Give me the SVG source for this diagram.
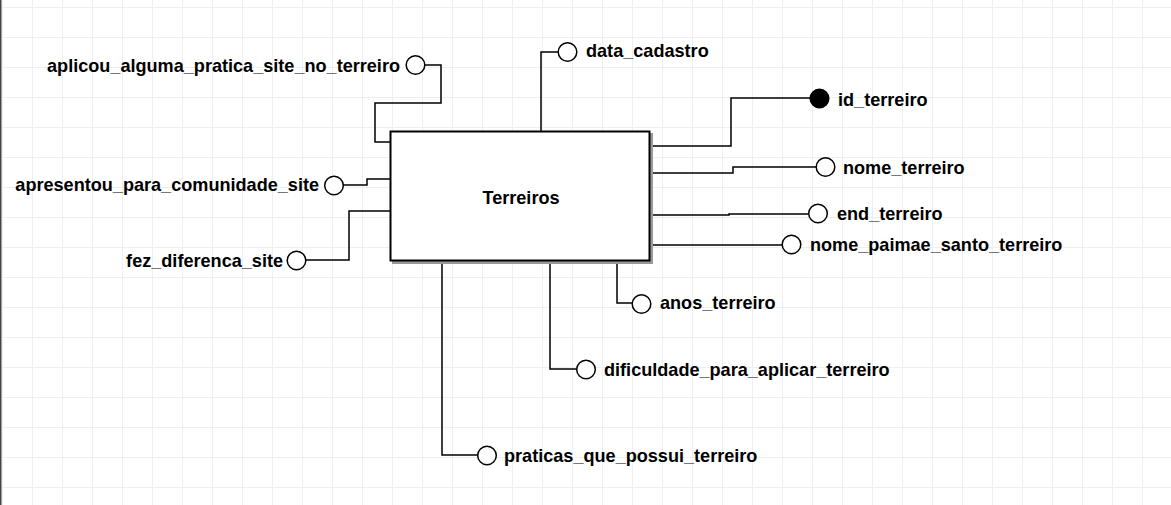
<svg xmlns="http://www.w3.org/2000/svg" width="1171" height="505" viewBox="0 0 1171 505">
<defs>
<pattern id="grid" x="2" y="7" width="30" height="30" patternUnits="userSpaceOnUse">
<path d="M0 0.5H30M0.5 0V30" fill="none" stroke="#ecf0f5" stroke-width="1"/>
</pattern>
<style>
.lbl{font-family:"Liberation Sans",Arial,sans-serif;font-weight:bold;font-size:18.1px;fill:#000}
.con{fill:none;stroke:#000;stroke-width:1.5}
.att{fill:#fff;stroke:#000;stroke-width:1.5}
.key{fill:#000;stroke:#000;stroke-width:1.5}
</style>
</defs>
<rect width="1171" height="505" fill="#fff"/>
<rect width="1171" height="505" fill="url(#grid)"/>
<rect x="0" y="0" width="1.5" height="505" fill="#444"/>
<g id="connectors">
<path class="con" d="M541 131V52H558"/>
<path class="con" d="M425 65H441V103H375V142H390"/>
<path class="con" d="M343 185H367V179H390"/>
<path class="con" d="M306 260H349V211H390"/>
<path class="con" d="M652 146H731V98H810"/>
<path class="con" d="M652 173H733V167H816"/>
<path class="con" d="M652 215H729V214H808"/>
<path class="con" d="M652 245H782"/>
<path class="con" d="M617 263V303H632"/>
<path class="con" d="M550 263V369H576"/>
<path class="con" d="M442 263V455H477"/>
</g>
<g id="terreiros">
<rect x="393" y="134" width="259" height="129" fill="#999" stroke="#999" stroke-width="2"/>
<rect x="390.5" y="131.5" width="259" height="129" fill="#fff" stroke="#000" stroke-width="2"/>
<text class="lbl" x="521" y="204" text-anchor="middle">Terreiros</text>
</g>
<g id="attr-data_cadastro">
<circle class="att" cx="567.5" cy="52" r="9.3"/>
<text class="lbl" x="586" y="57">data_cadastro</text>
</g>
<g id="attr-aplicou">
<circle class="att" cx="415.5" cy="65" r="9.3"/>
<text class="lbl" x="400" y="72" text-anchor="end">aplicou_alguma_pratica_site_no_terreiro</text>
</g>
<g id="attr-apresentou">
<circle class="att" cx="334" cy="185.5" r="9.3"/>
<text class="lbl" x="319" y="191" text-anchor="end">apresentou_para_comunidade_site</text>
</g>
<g id="attr-fez_diferenca">
<circle class="att" cx="296.5" cy="260.5" r="9.3"/>
<text class="lbl" x="283" y="267" text-anchor="end">fez_diferenca_site</text>
</g>
<g id="attr-id_terreiro">
<circle class="key" cx="819.5" cy="98.5" r="9.3"/>
<text class="lbl" x="838" y="106">id_terreiro</text>
</g>
<g id="attr-nome_terreiro">
<circle class="att" cx="825.5" cy="167" r="9.3"/>
<text class="lbl" x="843" y="174">nome_terreiro</text>
</g>
<g id="attr-end_terreiro">
<circle class="att" cx="818" cy="213.5" r="9.3"/>
<text class="lbl" x="837" y="220">end_terreiro</text>
</g>
<g id="attr-nome_paimae">
<circle class="att" cx="791.5" cy="244.5" r="9.3"/>
<text class="lbl" x="810" y="251">nome_paimae_santo_terreiro</text>
</g>
<g id="attr-anos_terreiro">
<circle class="att" cx="641.5" cy="304" r="9.3"/>
<text class="lbl" x="660" y="309">anos_terreiro</text>
</g>
<g id="attr-dificuldade">
<circle class="att" cx="586" cy="369.5" r="9.3"/>
<text class="lbl" x="604" y="376">dificuldade_para_aplicar_terreiro</text>
</g>
<g id="attr-praticas">
<circle class="att" cx="487" cy="455.5" r="9.3"/>
<text class="lbl" x="504" y="462">praticas_que_possui_terreiro</text>
</g>
</svg>
